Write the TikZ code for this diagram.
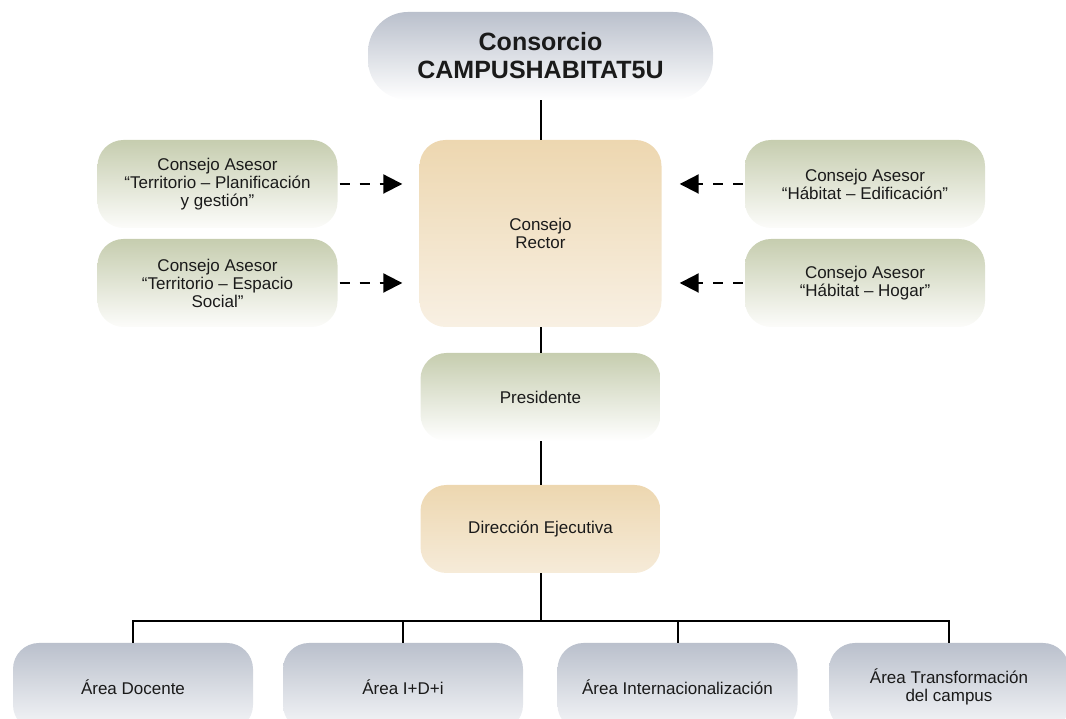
\documentclass[tikz,border=0pt]{standalone}
\usepackage{fontspec}
\setmainfont{Liberation Sans}
\usetikzlibrary{calc,arrows.meta,positioning}
\definecolor{grayblue}{HTML}{BAC0CC}
\definecolor{grayblue2}{HTML}{F6F7F9}
\definecolor{sage}{HTML}{C6CDAF}
\definecolor{sage2}{HTML}{FCFCFA}
\definecolor{sand}{HTML}{EDD7B0}
\definecolor{sand2}{HTML}{F8F0E3}
\definecolor{ink}{HTML}{1A1A1A}
\tikzstyle{unit} = [rectangle, rounded corners=26pt, text centered, align=center, minimum width=240pt, minimum height=88pt, font=\fontsize{17}{18}\selectfont, text=ink]
\tikzstyle{board} = [unit, top color=sand, bottom color=sand2]
\tikzstyle{advisor} = [unit, top color=sage, bottom color=sage2]
\tikzstyle{area} = [unit, top color=grayblue, bottom color=grayblue2]
\tikzstyle{link} = [line width=2pt, draw=black]
\tikzstyle{advice} = [line width=2pt, dash pattern=on 10pt off 10pt, -{Triangle[length=19pt,width=19pt]}]

\begin{document}
\begin{tikzpicture}[x=1pt,y=1pt]
            \useasboundingbox (0,0) rectangle (1066,719);
            \clip (0,0) rectangle (1066,719);
            \node (consorcio) [area, minimum width=345pt, rounded corners=40pt, font=\fontsize{25}{28}\selectfont\bfseries, bottom color=white] at (540.5,663) {Consorcio\\CAMPUSHABITAT5U};
            \node (rector) [board, minimum width=242pt, minimum height=187pt, below of = consorcio, node distance=177.5pt] {Consejo\\Rector};
            \node (planif) [advisor, left of = rector, node distance=323pt, yshift=49.5pt] {Consejo Asesor\\“Territorio – Planificación\\y gestión”};
            \node (social) [advisor, below of = planif, node distance=99pt] {Consejo Asesor\\“Territorio – Espacio\\Social”};
            \node (edif) [advisor, right of = rector, node distance=324.5pt, yshift=49.5pt] {Consejo Asesor\\“Hábitat – Edificación”};
            \node (hogar) [advisor, below of = edif, node distance=99pt] {Consejo Asesor\\“Hábitat – Hogar”};
            \node (presidente) [advisor, below of = rector, node distance=163.5pt, bottom color=white] {Presidente};
            \node (direccion) [board, below of = presidente, node distance=132pt, bottom color=sand2!80!sand] {Dirección Ejecutiva};
            \node (docente) [area] at (133,32) {Área Docente};
            \node (idi) [area, right of = docente, node distance=270pt] {Área I+D+i};
            \node (inter) [area, right of = idi, node distance=274.5pt] {Área Internacionalización};
            \node (transf) [area, right of = inter, node distance=271.5pt] {Área Transformación\\del campus};
            \coordinate (bus) at ($(direccion.south)-(0,48pt)$);
            \draw [link] (consorcio) -- (rector);
            \draw [link] (rector) -- (presidente);
            \draw [link] (presidente) -- (direccion);
            \draw [link] (direccion) -- (bus);
            \draw [link] (docente) |- (bus) -| (transf);
            \draw [link] (idi) -- (idi |- bus);
            \draw [link] (inter) -- (inter |- bus);
            \draw [advice, shorten >=17pt, shorten <=2pt] (planif) -- (planif -| rector.west);
            \draw [advice, shorten >=17pt, shorten <=2pt] (social) -- (social -| rector.west);
            \draw [advice, shorten >=18pt, shorten <=2pt] (edif) -- (edif -| rector.east);
            \draw [advice, shorten >=18pt, shorten <=2pt] (hogar) -- (hogar -| rector.east);
        \end{tikzpicture}
\end{document}
